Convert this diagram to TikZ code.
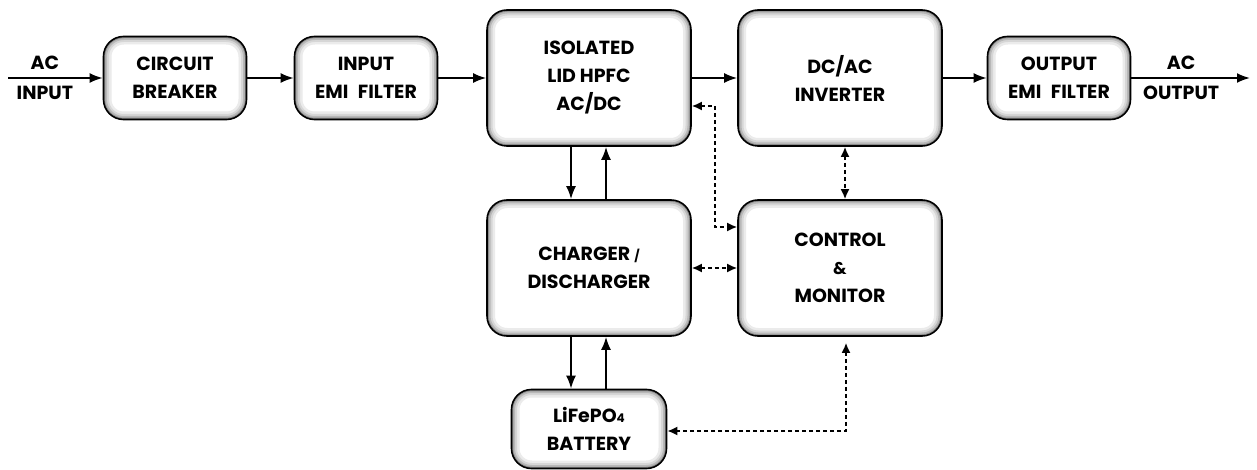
\documentclass[tikz,border=0pt]{standalone}
\usepackage{fontspec}
\setmainfont{Poppins}
\usetikzlibrary{arrows.meta,positioning}
\tikzset{>={Latex[length=13pt,width=10pt]}}

\begin{document}
\begin{tikzpicture}[x=1pt,y=1pt,
	block/.style={draw=black, line width=1.6pt, fill=white, rounded corners=20pt, align=center, inner sep=0pt,
		font=\bfseries\fontsize{19}{28}\selectfont,
		path picture={\foreach \w/\c in {16/8,11/16,7/28,3.5/45}
			\draw[line width=\w pt, black!\c, rounded corners=20pt] (path picture bounding box.south west) rectangle (path picture bounding box.north east);}},
	small/.style={block, minimum width=143pt, minimum height=83pt},
	big/.style={block, minimum width=204pt, minimum height=136pt},
	lbl/.style={font=\bfseries\fontsize{19}{20}\selectfont, inner sep=7pt},
	link/.style={->, line width=2pt},
	signal/.style={<->, line width=1.8pt, dash pattern=on 4pt off 3pt, >={Latex[length=10pt,width=9pt]}},
	node distance=190pt, on grid, auto]
		\useasboundingbox (0,0) rectangle (1257,-470);

		\node[small] (cb) at (175pt,-78pt) {CIRCUIT\\BREAKER};
		\node[small] (ief) [right=191pt of cb] {INPUT\\EMI\enspace FILTER};
		\node[big] (iso) [right=223pt of ief] {ISOLATED\\LID HPFC\\AC/DC};
		\node[big] (inv) [right=251pt of iso] {DC/AC\\INVERTER};
		\node[small] (oef) [right=219pt of inv] {OUTPUT\\EMI\enspace FILTER};
		\node[big] (chg) [below=190pt of iso] {CHARGER {\fontsize{12}{12}\selectfont/}\\DISCHARGER};
		\node[big] (ctl) [right=251pt of chg] {CONTROL\\{\fontsize{17}{17}\selectfont\&}\\MONITOR};
		\node[small, minimum width=155pt, minimum height=79pt] (bat) [below=161pt of chg] {LiFePO{\fontsize{12}{12}\selectfont 4}\\BATTERY};

		\coordinate (acin) at (8pt,-78pt);
		\coordinate[right=191pt of oef] (acout);

		% power path
		\path[link]
			(acin) edge node[lbl, pos=0.39, above] {AC} node[lbl, pos=0.39, below] {INPUT} (cb)
			(cb) edge (ief)
			(ief) edge (iso)
			(iso) edge (inv)
			(inv) edge (oef)
			(oef) edge node[lbl, pos=0.42, above] {AC} node[lbl, pos=0.42, below] {OUTPUT} (acout);

		\draw[link] ([xshift=-18pt]iso.south) -- ([xshift=-18pt]chg.north);
		\draw[link] ([xshift=17pt]chg.north) -- ([xshift=17pt]iso.south);
		\draw[link] ([xshift=-18pt]chg.south) -- ([xshift=-18pt]chg.south |- bat.north);
		\draw[link] ([xshift=17pt]chg.south |- bat.north) -- ([xshift=17pt]chg.south);

		% control signals
		\draw[signal] ([yshift=-28pt]iso.east) -- ++(23pt,0) |- ([yshift=41pt]ctl.west);
		\path[signal] (chg) edge (ctl);
		\draw[signal] ([xshift=5pt]inv.south) -- ([xshift=5pt]inv.south |- ctl.north);
		\draw[signal, shorten <=6pt] ([xshift=6pt]ctl.south) |- ([yshift=-2pt]bat.east);
\end{tikzpicture}
\end{document}
